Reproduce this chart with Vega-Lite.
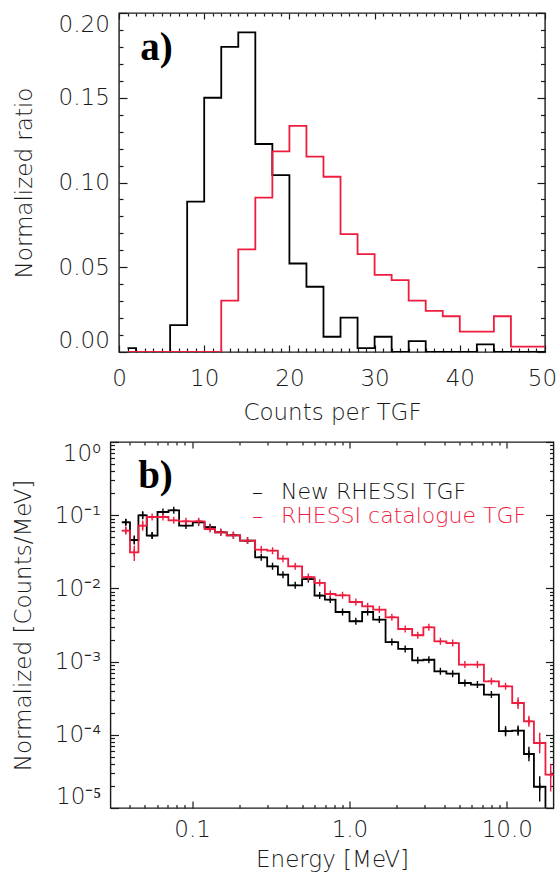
{
  "$schema": "https://vega.github.io/schema/vega-lite/v6.json",
  "padding": {"left": 10.5, "top": 11, "right": 0, "bottom": 0},
  "background": "white",
  "spacing": 90,
  "bounds": "flush",
  "center": true,
  "config": {
    "view": {"stroke": "#1a1a1a", "strokeWidth": 1.4},
    "axis": {
      "domain": false, "grid": false,
      "labelFont": "DejaVu Sans", "labelFontSize": 23, "labelFontWeight": 200, "labelColor": "#1a1a1a",
      "titleFont": "DejaVu Sans", "titleFontSize": 23, "titleFontWeight": 200, "titleColor": "#1a1a1a",
      "tickColor": "#1a1a1a", "tickWidth": 1.2, "labelOverlap": false, "labelBound": false
    }
  },
  "vconcat": [
    {
      "width": 426, "height": 339,
      "data": {"values": [
        {"s": "New", "c": 1, "v": 0.0023}, {"s": "New", "c": 3, "v": 0}, {"s": "New", "c": 5, "v": 0},
        {"s": "New", "c": 7, "v": 0.0158}, {"s": "New", "c": 9, "v": 0.0887}, {"s": "New", "c": 11, "v": 0.150},
        {"s": "New", "c": 13, "v": 0.180}, {"s": "New", "c": 15, "v": 0.1886}, {"s": "New", "c": 17, "v": 0.1227},
        {"s": "New", "c": 19, "v": 0.1043}, {"s": "New", "c": 21, "v": 0.0522}, {"s": "New", "c": 23, "v": 0.0385},
        {"s": "New", "c": 25, "v": 0.0090}, {"s": "New", "c": 27, "v": 0.0203}, {"s": "New", "c": 29, "v": 0.0023},
        {"s": "New", "c": 31, "v": 0.0090}, {"s": "New", "c": 33, "v": 0}, {"s": "New", "c": 35, "v": 0.0064},
        {"s": "New", "c": 37, "v": 0}, {"s": "New", "c": 39, "v": 0}, {"s": "New", "c": 41, "v": 0},
        {"s": "New", "c": 43, "v": 0.0045}, {"s": "New", "c": 45, "v": 0}, {"s": "New", "c": 47, "v": 0},
        {"s": "New", "c": 49, "v": 0}, {"s": "New", "c": 51, "v": 0},
        {"s": "Cat", "c": 1, "v": 0}, {"s": "Cat", "c": 3, "v": 0}, {"s": "Cat", "c": 5, "v": 0},
        {"s": "Cat", "c": 7, "v": 0}, {"s": "Cat", "c": 9, "v": 0}, {"s": "Cat", "c": 11, "v": 0},
        {"s": "Cat", "c": 13, "v": 0.0303}, {"s": "Cat", "c": 15, "v": 0.0606}, {"s": "Cat", "c": 17, "v": 0.0911},
        {"s": "Cat", "c": 19, "v": 0.1184}, {"s": "Cat", "c": 21, "v": 0.1334}, {"s": "Cat", "c": 23, "v": 0.1153},
        {"s": "Cat", "c": 25, "v": 0.1034}, {"s": "Cat", "c": 27, "v": 0.0696}, {"s": "Cat", "c": 29, "v": 0.0578},
        {"s": "Cat", "c": 31, "v": 0.0455}, {"s": "Cat", "c": 33, "v": 0.0424}, {"s": "Cat", "c": 35, "v": 0.0303},
        {"s": "Cat", "c": 37, "v": 0.0243}, {"s": "Cat", "c": 39, "v": 0.0211}, {"s": "Cat", "c": 41, "v": 0.0120},
        {"s": "Cat", "c": 43, "v": 0.0120}, {"s": "Cat", "c": 45, "v": 0.0211}, {"s": "Cat", "c": 47, "v": 0.0032},
        {"s": "Cat", "c": 49, "v": 0.0032}, {"s": "Cat", "c": 51, "v": 0.0032}
      ]},
      "layer": [
        {
          "transform": [{"filter": "datum.s === 'New'"}],
          "mark": {"type": "line", "interpolate": "step", "color": "#000000", "strokeWidth": 1.8, "clip": true},
          "encoding": {
            "x": {"field": "c", "type": "quantitative", "scale": {"domain": [0, 50], "nice": false, "zero": false},
              "axis": {"orient": "bottom",
                "values": [0,1,2,3,4,5,6,7,8,9,10,11,12,13,14,15,16,17,18,19,20,21,22,23,24,25,26,27,28,29,30,31,32,33,34,35,36,37,38,39,40,41,42,43,44,45,46,47,48,49,50],
                "labelExpr": "datum.value % 10 === 0 ? format(datum.value, 'd') : ''",
                "labelOffset": {"condition": {"test": "datum.value === 50", "value": -3}, "value": 0},
                "tickSize": {"condition": {"test": "datum.value % 10 === 0", "value": -7}, "value": -4},
                "labelPadding": 22, "labelFlush": false,
                "title": "Counts per TGF", "titleY": 49.6, "titleBaseline": "top"}},
            "y": {"field": "v", "type": "quantitative", "scale": {"domain": [0, 0.2], "nice": false},
              "axis": {"orient": "left",
                "values": [0,0.01,0.02,0.03,0.04,0.05,0.06,0.07,0.08,0.09,0.1,0.11,0.12,0.13,0.14,0.15,0.16,0.17,0.18,0.19,0.2],
                "labelExpr": "abs(datum.value*20 - round(datum.value*20)) < 1e-6 ? format(datum.value, '.2f') : ''",
                "tickSize": {"condition": {"test": "abs(datum.value*20 - round(datum.value*20)) < 1e-6", "value": -8}, "value": -4},
                "labelPadding": 17.7, "labelFlush": true,
                "title": "Normalized ratio", "titleX": -82.2, "titleBaseline": "bottom"}}
          }
        },
        {
          "transform": [{"filter": "datum.s === 'Cat'"}],
          "mark": {"type": "line", "interpolate": "step", "color": "#ee1c3e", "strokeWidth": 1.8, "clip": true},
          "encoding": {
            "x": {"field": "c", "type": "quantitative", "axis": null},
            "y": {"field": "v", "type": "quantitative", "axis": null}
          }
        },
        {
          "data": {"values": [{"t": "a)"}]},
          "mark": {"type": "text", "font": "Liberation Serif", "fontWeight": "bold", "fontSize": 39, "align": "left", "baseline": "alphabetic", "color": "#000000"},
          "encoding": {
            "x": {"datum": 2.5, "type": "quantitative",
              "axis": {"orient": "top", "labels": false, "title": null,
                "values": [0,1,2,3,4,5,6,7,8,9,10,11,12,13,14,15,16,17,18,19,20,21,22,23,24,25,26,27,28,29,30,31,32,33,34,35,36,37,38,39,40,41,42,43,44,45,46,47,48,49,50],
                "tickSize": {"condition": {"test": "datum.value % 10 === 0", "value": -6}, "value": -3}}},
            "y": {"datum": 0.1723, "type": "quantitative",
              "axis": {"orient": "right", "labels": false, "title": null,
                "values": [0,0.01,0.02,0.03,0.04,0.05,0.06,0.07,0.08,0.09,0.1,0.11,0.12,0.13,0.14,0.15,0.16,0.17,0.18,0.19,0.2],
                "tickSize": {"condition": {"test": "abs(datum.value*20 - round(datum.value*20)) < 1e-6", "value": -8}, "value": -4.5}}},
            "text": {"field": "t"}
          }
        }
      ],
      "resolve": {"axis": {"x": "independent", "y": "independent"}}
    },
    {
      "width": 443, "height": 366,
      "data": {"values": [
        {"s": "New", "lo": 0.0357, "hi": 0.0403, "e": 0.0379, "v": 0.0800, "vl": 0.0721, "vh": 0.0887},
        {"s": "New", "lo": 0.0403, "hi": 0.0456, "e": 0.0429, "v": 0.0458, "vl": 0.0399, "vh": 0.0526},
        {"s": "New", "lo": 0.0456, "hi": 0.0515, "e": 0.0485, "v": 0.0997, "vl": 0.0878, "vh": 0.1132},
        {"s": "New", "lo": 0.0515, "hi": 0.0603, "e": 0.0557, "v": 0.0527, "vl": 0.0475, "vh": 0.0584},
        {"s": "New", "lo": 0.0603, "hi": 0.0708, "e": 0.0653, "v": 0.1106},
        {"s": "New", "lo": 0.0708, "hi": 0.0827, "e": 0.0765, "v": 0.1167},
        {"s": "New", "lo": 0.0827, "hi": 0.101, "e": 0.0914, "v": 0.0721},
        {"s": "New", "lo": 0.101, "hi": 0.120, "e": 0.110, "v": 0.0800},
        {"s": "New", "lo": 0.120, "hi": 0.140, "e": 0.130, "v": 0.0684},
        {"s": "New", "lo": 0.140, "hi": 0.166, "e": 0.152, "v": 0.0584},
        {"s": "New", "lo": 0.166, "hi": 0.202, "e": 0.183, "v": 0.0531},
        {"s": "New", "lo": 0.202, "hi": 0.2515, "e": 0.225, "v": 0.0450},
        {"s": "New", "lo": 0.2515, "hi": 0.300, "e": 0.275, "v": 0.0266},
        {"s": "New", "lo": 0.300, "hi": 0.351, "e": 0.3245, "v": 0.0200},
        {"s": "New", "lo": 0.351, "hi": 0.408, "e": 0.378, "v": 0.0154},
        {"s": "New", "lo": 0.408, "hi": 0.500, "e": 0.452, "v": 0.0110},
        {"s": "New", "lo": 0.500, "hi": 0.600, "e": 0.548, "v": 0.0134},
        {"s": "New", "lo": 0.600, "hi": 0.698, "e": 0.647, "v": 0.00798},
        {"s": "New", "lo": 0.698, "hi": 0.816, "e": 0.755, "v": 0.00703},
        {"s": "New", "lo": 0.816, "hi": 1.001, "e": 0.904, "v": 0.00476},
        {"s": "New", "lo": 1.001, "hi": 1.204, "e": 1.098, "v": 0.00356},
        {"s": "New", "lo": 1.204, "hi": 1.415, "e": 1.305, "v": 0.00476},
        {"s": "New", "lo": 1.415, "hi": 1.696, "e": 1.549, "v": 0.00375},
        {"s": "New", "lo": 1.696, "hi": 2.040, "e": 1.860, "v": 0.00185},
        {"s": "New", "lo": 2.040, "hi": 2.503, "e": 2.260, "v": 0.00149},
        {"s": "New", "lo": 2.503, "hi": 2.950, "e": 2.717, "v": 0.00104},
        {"s": "New", "lo": 2.950, "hi": 3.465, "e": 3.197, "v": 0.00106},
        {"s": "New", "lo": 3.465, "hi": 4.130, "e": 3.783, "v": 0.000736},
        {"s": "New", "lo": 4.130, "hi": 4.961, "e": 4.527, "v": 0.000685},
        {"s": "New", "lo": 4.961, "hi": 5.913, "e": 5.416, "v": 0.000510},
        {"s": "New", "lo": 5.913, "hi": 7.153, "e": 6.504, "v": 0.000485},
        {"s": "New", "lo": 7.153, "hi": 8.908, "e": 7.982, "v": 0.000354},
        {"s": "New", "lo": 8.908, "hi": 10.82, "e": 9.818, "v": 0.000112, "vl": 0.0000953, "vh": 0.0001316},
        {"s": "New", "lo": 10.82, "hi": 12.85, "e": 11.79, "v": 0.000114, "vl": 0.0000970, "vh": 0.000134},
        {"s": "New", "lo": 12.85, "hi": 14.87, "e": 13.82, "v": 0.0000547, "vl": 0.0000434, "vh": 0.0000689},
        {"s": "New", "lo": 14.87, "hi": 17.60, "e": 16.18, "v": 0.0000195, "vl": 0.0000123, "vh": 0.0000271},
        {"s": "New", "lo": 17.60, "hi": 20.51, "e": 19.0, "v": 0.000003},
        {"s": "Cat", "lo": 0.0357, "hi": 0.0403, "e": 0.0379, "v": 0.0616, "vl": 0.0543, "vh": 0.0699},
        {"s": "Cat", "lo": 0.0403, "hi": 0.0456, "e": 0.0429, "v": 0.0311, "vl": 0.0236, "vh": 0.0383},
        {"s": "Cat", "lo": 0.0456, "hi": 0.0515, "e": 0.0485, "v": 0.0721, "vl": 0.0614, "vh": 0.0847},
        {"s": "Cat", "lo": 0.0515, "hi": 0.0603, "e": 0.0557, "v": 0.0945},
        {"s": "Cat", "lo": 0.0603, "hi": 0.0708, "e": 0.0653, "v": 0.0945},
        {"s": "Cat", "lo": 0.0708, "hi": 0.0827, "e": 0.0765, "v": 0.0851},
        {"s": "Cat", "lo": 0.0827, "hi": 0.101, "e": 0.0914, "v": 0.0825},
        {"s": "Cat", "lo": 0.101, "hi": 0.120, "e": 0.110, "v": 0.0825},
        {"s": "Cat", "lo": 0.120, "hi": 0.140, "e": 0.130, "v": 0.0648},
        {"s": "Cat", "lo": 0.140, "hi": 0.166, "e": 0.152, "v": 0.0584},
        {"s": "Cat", "lo": 0.166, "hi": 0.202, "e": 0.183, "v": 0.0531},
        {"s": "Cat", "lo": 0.202, "hi": 0.2515, "e": 0.225, "v": 0.0450},
        {"s": "Cat", "lo": 0.2515, "hi": 0.300, "e": 0.275, "v": 0.0339},
        {"s": "Cat", "lo": 0.300, "hi": 0.351, "e": 0.3245, "v": 0.0328},
        {"s": "Cat", "lo": 0.351, "hi": 0.408, "e": 0.378, "v": 0.0255},
        {"s": "Cat", "lo": 0.408, "hi": 0.500, "e": 0.452, "v": 0.0200},
        {"s": "Cat", "lo": 0.500, "hi": 0.600, "e": 0.548, "v": 0.0143},
        {"s": "Cat", "lo": 0.600, "hi": 0.698, "e": 0.647, "v": 0.0119},
        {"s": "Cat", "lo": 0.698, "hi": 0.816, "e": 0.755, "v": 0.00838},
        {"s": "Cat", "lo": 0.816, "hi": 1.001, "e": 0.904, "v": 0.00805},
        {"s": "Cat", "lo": 1.001, "hi": 1.204, "e": 1.098, "v": 0.00652},
        {"s": "Cat", "lo": 1.204, "hi": 1.415, "e": 1.305, "v": 0.00569},
        {"s": "Cat", "lo": 1.415, "hi": 1.696, "e": 1.549, "v": 0.00513},
        {"s": "Cat", "lo": 1.696, "hi": 2.040, "e": 1.860, "v": 0.00403},
        {"s": "Cat", "lo": 2.040, "hi": 2.503, "e": 2.260, "v": 0.00279},
        {"s": "Cat", "lo": 2.503, "hi": 2.950, "e": 2.717, "v": 0.00229},
        {"s": "Cat", "lo": 2.950, "hi": 3.465, "e": 3.197, "v": 0.00294},
        {"s": "Cat", "lo": 3.465, "hi": 4.130, "e": 3.783, "v": 0.00189},
        {"s": "Cat", "lo": 4.130, "hi": 4.961, "e": 4.527, "v": 0.00179},
        {"s": "Cat", "lo": 4.961, "hi": 5.913, "e": 5.416, "v": 0.000910},
        {"s": "Cat", "lo": 5.913, "hi": 7.153, "e": 6.504, "v": 0.000910},
        {"s": "Cat", "lo": 7.153, "hi": 8.908, "e": 7.982, "v": 0.000538},
        {"s": "Cat", "lo": 8.908, "hi": 10.82, "e": 9.818, "v": 0.000460},
        {"s": "Cat", "lo": 10.82, "hi": 12.85, "e": 11.79, "v": 0.000272, "vl": 0.000226, "vh": 0.000327},
        {"s": "Cat", "lo": 12.85, "hi": 14.87, "e": 13.82, "v": 0.000153, "vl": 0.0001287, "vh": 0.0001819},
        {"s": "Cat", "lo": 14.87, "hi": 17.60, "e": 16.18, "v": 0.0000773, "vl": 0.0000560, "vh": 0.0001067},
        {"s": "Cat", "lo": 17.60, "hi": 20.51, "e": 19.0, "v": 0.0000286, "vl": 0.00001684, "vh": 0.0000395}
      ]},
      "layer": [
        {
          "transform": [{"filter": "datum.s === 'New'"}, {"fold": ["lo", "hi"], "as": ["k", "x"]}],
          "mark": {"type": "line", "color": "#000000", "strokeWidth": 1.8, "clip": true},
          "encoding": {
            "x": {"field": "x", "type": "quantitative", "scale": {"type": "log", "domain": [0.0303, 19.8], "nice": false},
              "axis": {"orient": "bottom",
                "values": [0.04,0.05,0.06,0.07,0.08,0.09,0.1,0.2,0.3,0.4,0.5,0.6,0.7,0.8,0.9,1,2,3,4,5,6,7,8,9,10],
                "labelExpr": "abs(datum.value-0.1) < 1e-9 ? '0.1' : abs(datum.value-1) < 1e-9 ? '1.0' : abs(datum.value-10) < 1e-9 ? '10.0' : ''",
                "tickSize": {"condition": {"test": "abs(log(datum.value)/LN10 - round(log(datum.value)/LN10)) < 1e-6", "value": -7}, "value": -3.5},
                "labelPadding": 17, "labelFlush": false,
                "title": "Energy [MeV]", "titleY": 40, "titleBaseline": "top"}},
            "y": {"field": "v", "type": "quantitative", "scale": {"type": "log", "domain": [0.00001, 1], "nice": false},
              "axis": {"orient": "left",
                "values": [0.00001,0.00002,0.00003,0.00004,0.00005,0.00006,0.00007,0.00008,0.00009,0.0001,0.0002,0.0003,0.0004,0.0005,0.0006,0.0007,0.0008,0.0009,0.001,0.002,0.003,0.004,0.005,0.006,0.007,0.008,0.009,0.01,0.02,0.03,0.04,0.05,0.06,0.07,0.08,0.09,0.1,0.2,0.3,0.4,0.5,0.6,0.7,0.8,0.9,1],
                "labelExpr": "datum.value > 0.95 ? '10⁰' : abs(datum.value-0.1) < 1e-9 ? '10⁻¹' : abs(datum.value-0.01) < 1e-10 ? '10⁻²' : abs(datum.value-0.001) < 1e-11 ? '10⁻³' : abs(datum.value-0.0001) < 1e-12 ? '10⁻⁴' : abs(datum.value-0.00001) < 1e-13 ? '10⁻⁵' : ''",
                "tickSize": {"condition": {"test": "abs(log(datum.value)/LN10 - round(log(datum.value)/LN10)) < 1e-6", "value": -8}, "value": -4},
                "labelPadding": 17.7, "labelFlush": true,
                "title": "Normalized [Counts/MeV]", "titleX": -75.5, "titleBaseline": "bottom"}},
            "order": [{"field": "x", "type": "quantitative"}, {"field": "k", "type": "nominal"}]
          }
        },
        {
          "transform": [{"filter": "datum.s === 'Cat'"}, {"fold": ["lo", "hi"], "as": ["k", "x"]}],
          "mark": {"type": "line", "color": "#ee1c3e", "strokeWidth": 1.8, "clip": true},
          "encoding": {
            "x": {"field": "x", "type": "quantitative", "axis": null},
            "y": {"field": "v", "type": "quantitative", "axis": null},
            "order": [{"field": "x", "type": "quantitative"}, {"field": "k", "type": "nominal"}]
          }
        },
        {
          "transform": [{"filter": "datum.s === 'New' && isValid(datum.vl)"}],
          "mark": {"type": "rule", "color": "#000000", "strokeWidth": 1.4, "clip": true},
          "encoding": {
            "x": {"field": "e", "type": "quantitative",
              "axis": {"orient": "top", "labels": false, "title": null,
                "values": [0.04,0.05,0.06,0.07,0.08,0.09,0.1,0.2,0.3,0.4,0.5,0.6,0.7,0.8,0.9,1,2,3,4,5,6,7,8,9,10],
                "tickSize": {"condition": {"test": "abs(log(datum.value)/LN10 - round(log(datum.value)/LN10)) < 1e-6", "value": -6}, "value": -3}}},
            "y": {"field": "vl", "type": "quantitative",
              "axis": {"orient": "right", "labels": false, "title": null,
                "values": [0.00001,0.00002,0.00003,0.00004,0.00005,0.00006,0.00007,0.00008,0.00009,0.0001,0.0002,0.0003,0.0004,0.0005,0.0006,0.0007,0.0008,0.0009,0.001,0.002,0.003,0.004,0.005,0.006,0.007,0.008,0.009,0.01,0.02,0.03,0.04,0.05,0.06,0.07,0.08,0.09,0.1,0.2,0.3,0.4,0.5,0.6,0.7,0.8,0.9,1],
                "tickSize": {"condition": {"test": "abs(log(datum.value)/LN10 - round(log(datum.value)/LN10)) < 1e-6", "value": -8}, "value": -4}}},
            "y2": {"field": "vh"}
          }
        },
        {
          "transform": [{"filter": "datum.s === 'Cat' && isValid(datum.vl)"}],
          "mark": {"type": "rule", "color": "#ee1c3e", "strokeWidth": 1.4, "clip": true},
          "encoding": {
            "x": {"field": "e", "type": "quantitative", "axis": null},
            "y": {"field": "vl", "type": "quantitative", "axis": null},
            "y2": {"field": "vh"}
          }
        },
        {
          "transform": [{"filter": "datum.s === 'New'"}],
          "mark": {"type": "point", "shape": "M-1,0L1,0M0,-1L0,1", "size": 49, "filled": false, "color": "#000000", "strokeWidth": 1.4, "opacity": 1, "clip": true},
          "encoding": {
            "x": {"field": "e", "type": "quantitative", "axis": null},
            "y": {"field": "v", "type": "quantitative", "axis": null}
          }
        },
        {
          "transform": [{"filter": "datum.s === 'Cat'"}],
          "mark": {"type": "point", "shape": "M-1,0L1,0M0,-1L0,1", "size": 49, "filled": false, "color": "#ee1c3e", "strokeWidth": 1.4, "opacity": 1, "clip": true},
          "encoding": {
            "x": {"field": "e", "type": "quantitative", "axis": null},
            "y": {"field": "v", "type": "quantitative", "axis": null}
          }
        },
        {
          "data": {"values": [{"t": "b)"}]},
          "mark": {"type": "text", "font": "Liberation Serif", "fontWeight": "bold", "fontSize": 39, "align": "left", "baseline": "alphabetic", "color": "#000000"},
          "encoding": {
            "x": {"datum": 0.0454, "type": "quantitative", "axis": null},
            "y": {"datum": 0.2353, "type": "quantitative", "axis": null},
            "text": {"field": "t"}
          }
        },
        {
          "data": {"values": [{"t": "–\u2002 New RHESSI TGF"}]},
          "mark": {"type": "text", "font": "DejaVu Sans", "fontWeight": 200, "fontSize": 22, "align": "left", "baseline": "alphabetic", "color": "#111111"},
          "encoding": {
            "x": {"datum": 0.240, "type": "quantitative", "axis": null},
            "y": {"datum": 0.1686, "type": "quantitative", "axis": null},
            "text": {"field": "t"}
          }
        },
        {
          "data": {"values": [{"t": "–\u2002 RHESSI catalogue TGF"}]},
          "mark": {"type": "text", "font": "DejaVu Sans", "fontWeight": 200, "fontSize": 22, "align": "left", "baseline": "alphabetic", "color": "#ee1c3e"},
          "encoding": {
            "x": {"datum": 0.240, "type": "quantitative", "axis": null},
            "y": {"datum": 0.0782, "type": "quantitative", "axis": null},
            "text": {"field": "t"}
          }
        }
      ],
      "resolve": {"axis": {"x": "independent", "y": "independent"}}
    }
  ]
}
